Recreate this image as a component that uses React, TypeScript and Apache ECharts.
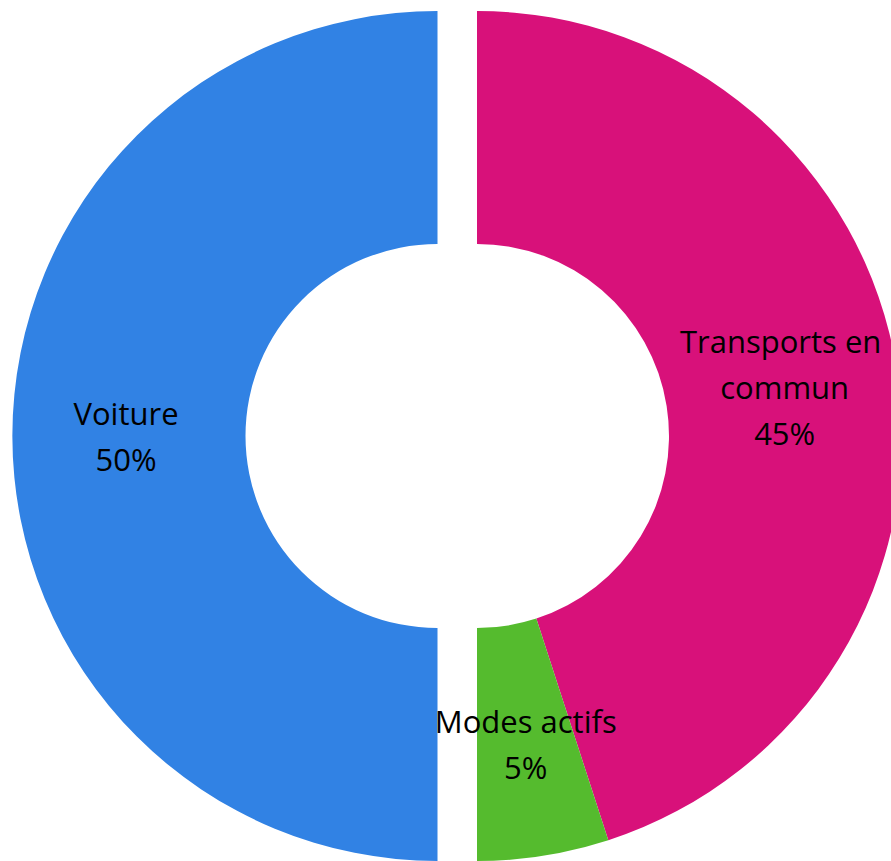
import React, { useEffect, useRef } from "react";
import * as echarts from "echarts";

const categories = ["Transports en commun", "Modes actifs", "Voiture"];
const values = [45, 5, 50];
const colors = ["#D8117A", "#55BB2E", "#3182E4"];
// which group each slice belongs to (left half / right half of the split donut)
const groups = ["right", "right", "left"];

export default function App() {
  const ref = useRef<HTMLDivElement>(null);
  useEffect(() => {
    document.body.style.margin = "0";
    const chart = echarts.init(ref.current!, null, { renderer: "svg" });
    const makeSeries = (group: string, cx: number) => ({
      type: "pie",
      center: [cx, 436],
      radius: [192, 425],
      startAngle: 90,
      clockwise: true,
      silent: true,
      label: {
        show: true,
        position: "inside",
        formatter: "{b}\n{d}%",
        color: "#000",
        fontSize: 31,
        lineHeight: 46,
        fontFamily: "'Open Sans', Lato, sans-serif",
        width: 225,
        overflow: "break",
      },
      labelLine: { show: false },
      data: categories.map((c, i) => ({
        name: c,
        value: values[i],
        itemStyle: { color: groups[i] === group ? colors[i] : "transparent" },
        label: { show: groups[i] === group },
      })),
    });
    chart.setOption({
      animation: false,
      backgroundColor: "#fff",
      series: [makeSeries("left", 437.5), makeSeries("right", 477)],
    });
    return () => chart.dispose();
  }, []);
  return <div ref={ref} style={{ width: 891, height: 861 }} />;
}
